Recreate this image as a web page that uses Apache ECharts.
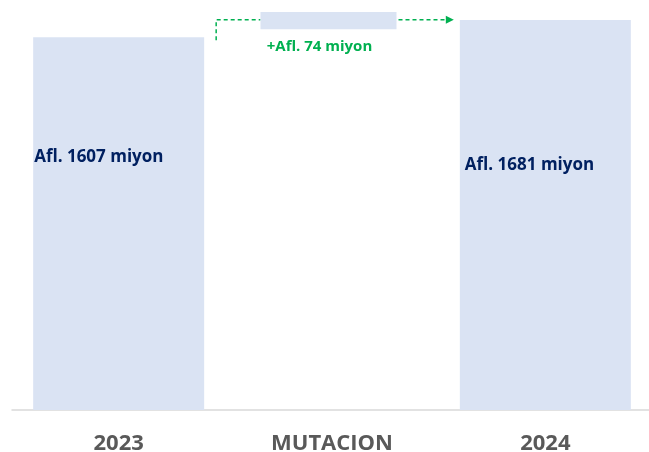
<!DOCTYPE html>
<html>
<head>
<meta charset="utf-8">
<script src="https://cdn.jsdelivr.net/npm/echarts@6/dist/echarts.min.js"></script>
<style>
  html, body { margin: 0; padding: 0; background: #fff; }
  #chart { width: 649px; height: 452px; }
</style>
</head>
<body>
<div id="chart"></div>
<script>
const categories = ["2023", "MUTACION", "2024"];
const totals = [1607, "-", 1681];
const mutationBase = ["-", 1641, "-"];
const mutation = ["-", 74, "-"];
const totalLabels = ["Afl. 1607 miyon", "", "Afl. 1681 miyon"];
const mutationLabel = "+Afl. 74 miyon";

const BAR_FILL = "#dae3f3";
const NAVY = "#002060";
const GREEN = "#00b050";
const TOTAL_W = 171;
const MUT_W = 136;
const Y_MAX = 1767;

const chart = echarts.init(document.getElementById("chart"));

// per-bar label placement inside the bar
const labelX = [1, "", 5];
const labelTop = ["30%", "", "35%"];

const option = {
  animation: false,
  grid: [
    { left: 12, right: -3, top: 0, bottom: 42, outerBoundsMode: "none" },
    { left: 8, right: 0, top: 0, bottom: 42, outerBoundsMode: "none" }
  ],
  xAxis: [
    {
      type: "category",
      gridIndex: 0,
      data: categories,
      axisLine: { lineStyle: { color: "#d9d9d9", width: 1.5 } },
      axisTick: { show: false },
      axisLabel: {
        color: "#595959",
        fontSize: 22,
        fontWeight: "bold",
        fontFamily: "Open Sans",
        margin: 23
      }
    },
    { type: "category", gridIndex: 1, data: categories, show: false }
  ],
  yAxis: [
    { type: "value", gridIndex: 0, min: 0, max: Y_MAX, show: false, splitLine: { show: false } },
    { type: "value", gridIndex: 1, min: 0, max: Y_MAX, show: false, splitLine: { show: false } }
  ],
  series: [
    {
      type: "bar",
      xAxisIndex: 0,
      yAxisIndex: 0,
      barWidth: TOTAL_W,
      itemStyle: { color: BAR_FILL },
      data: totals.map((v, i) => ({
        value: v,
        label: {
          show: v !== "-",
          position: [labelX[i], labelTop[i]],
          formatter: totalLabels[i],
          color: NAVY,
          fontSize: 17,
          fontWeight: "bold",
          fontFamily: "Open Sans"
        }
      }))
    },
    {
      type: "bar",
      xAxisIndex: 1,
      yAxisIndex: 1,
      stack: "mut",
      barWidth: MUT_W,
      itemStyle: { color: "transparent" },
      data: mutationBase
    },
    {
      type: "bar",
      xAxisIndex: 1,
      yAxisIndex: 1,
      stack: "mut",
      barWidth: MUT_W,
      itemStyle: { color: BAR_FILL },
      label: {
        show: true,
        position: "bottom",
        distance: 10,
        offset: [-9, 0],
        formatter: mutationLabel,
        color: GREEN,
        fontSize: 15,
        fontWeight: "bold",
        fontFamily: "Open Sans"
      },
      data: mutation
    }
  ]
};

chart.setOption(option);

// dashed green connectors, positioned from the data
const px = (g, i, v) => chart.convertToPixel({ xAxisIndex: g, yAxisIndex: g }, [i, v]);
const leftTop = px(0, 0, totals[0]);
const mutTop = px(1, 1, mutationBase[1] + mutation[1]);
const mutBot = px(1, 1, mutationBase[1]);
const rightTop = px(0, 2, totals[2]);
const midY = (mutTop[1] + mutBot[1]) / 2 - 1;
const x0 = leftTop[0] + TOTAL_W / 2 + 12;
const mutL = mutTop[0] - MUT_W / 2;
const mutR = mutTop[0] + MUT_W / 2;
const arrowEnd = rightTop[0] - TOTAL_W / 2 - 6;

const dash = { stroke: GREEN, lineWidth: 1.5, lineDash: [4, 3], fill: null };

chart.setOption({
  graphic: [
    {
      type: "polyline",
      shape: { points: [[x0, leftTop[1] + 3], [x0, midY], [mutL, midY]] },
      style: dash
    },
    {
      type: "polyline",
      shape: { points: [[mutR + 2, midY], [arrowEnd - 7, midY]] },
      style: dash
    },
    {
      type: "polygon",
      shape: { points: [[arrowEnd - 8, midY - 4], [arrowEnd, midY], [arrowEnd - 8, midY + 4]] },
      style: { fill: GREEN }
    }
  ]
});
</script>
</body>
</html>
